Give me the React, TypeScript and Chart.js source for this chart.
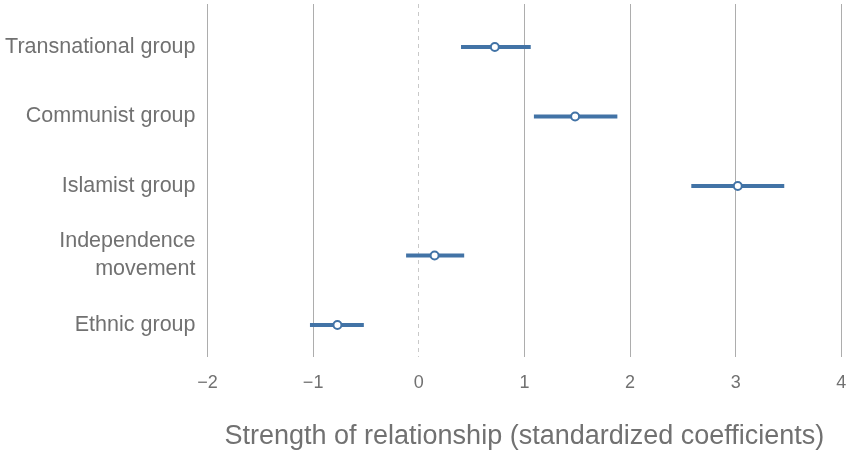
import React, { useEffect, useRef } from "react";
import { Chart, registerables } from "chart.js";

Chart.register(...registerables);

// Predictor categories, top to bottom
const categories: (string | string[])[] = [
  "Transnational group",
  "Communist group",
  "Islamist group",
  ["Independence", "movement"],
  "Ethnic group",
];

// Standardized coefficient estimates and their interval bounds
const estimates = [0.72, 1.48, 3.02, 0.15, -0.77];
const lowerBounds = [0.4, 1.09, 2.58, -0.12, -1.03];
const upperBounds = [1.06, 1.88, 3.46, 0.43, -0.52];

const xTicks = [-2, -1, 0, 1, 2, 3, 4];
const axisTitle = "Strength of relationship (standardized coefficients)";

const BLUE = "#4273a6";
const TEXT = "#717171";
const FONT = "'Liberation Sans', Arial, Helvetica, sans-serif";

// Drop the label overhang padding Chart.js reserves around each axis
const clearPadding = (scale: any) => {
  scale.paddingTop = 0;
  scale.paddingBottom = 0;
  scale.paddingLeft = 0;
  scale.paddingRight = 0;
};

export default function App() {
  const canvasRef = useRef<HTMLCanvasElement | null>(null);

  useEffect(() => {
    if (!canvasRef.current) return;

    // One horizontal segment per category for the interval
    const intervalSets = categories.map((_, i) => ({
      type: "line" as const,
      data: [
        { x: lowerBounds[i], y: i },
        { x: upperBounds[i], y: i },
      ],
      borderColor: BLUE,
      borderWidth: 4,
      borderCapStyle: "butt" as const,
      pointRadius: 0,
      showLine: true,
      order: 2,
    }));

    const chart = new Chart(canvasRef.current, {
      type: "scatter",
      data: {
        datasets: [
          ...intervalSets,
          {
            type: "scatter" as const,
            data: estimates.map((v, i) => ({ x: v, y: i })),
            backgroundColor: "#ffffff",
            borderColor: BLUE,
            borderWidth: 2,
            pointRadius: 4,
            order: 1,
          },
        ],
      },
      options: {
        animation: false,
        responsive: false,
        maintainAspectRatio: false,
        layout: {
          autoPadding: false,
          padding: { top: 4, right: 10.7, left: 0, bottom: 0 },
        },
        plugins: {
          legend: { display: false },
          tooltip: { enabled: false },
        },
        scales: {
          x: {
            type: "linear",
            min: xTicks[0],
            max: xTicks[xTicks.length - 1],
            afterBuildTicks: (scale: any) => {
              scale.ticks = xTicks.map((v) => ({ value: v }));
            },
            afterFit: (scale: any) => {
              scale.height = 93;
              clearPadding(scale);
            },
            grid: {
              drawTicks: false,
              lineWidth: 1,
              color: (ctx: any) =>
                ctx.tick && ctx.tick.value === 0 ? "#c9c9c9" : "#adadad",
            },
            border: {
              display: false,
              dash: (ctx: any) =>
                ctx.tick && ctx.tick.value === 0 ? [4, 4] : [],
            },
            ticks: {
              padding: 15,
              color: TEXT,
              font: { family: FONT, size: 18 },
              callback: (v: any) =>
                Number(v) < 0 ? "\u2212" + Math.abs(Number(v)) : String(v),
            },
            title: {
              display: true,
              text: axisTitle,
              color: TEXT,
              font: { family: FONT, size: 27 },
              padding: { top: 0, bottom: -3 },
            },
          },
          y: {
            type: "linear",
            reverse: true,
            min: -0.62,
            max: 4.46,
            afterBuildTicks: (scale: any) => {
              scale.ticks = categories.map((_, i) => ({ value: i }));
            },
            afterFit: (scale: any) => {
              scale.width = 207.5;
              clearPadding(scale);
            },
            grid: { display: false, drawTicks: false },
            border: { display: false },
            ticks: {
              padding: 12,
              color: TEXT,
              font: { family: FONT, size: 21.5, lineHeight: 1.3 },
              callback: (v: any) => categories[Number(v)] ?? "",
            },
          },
        },
      },
    } as any);

    return () => chart.destroy();
  }, []);

  return (
    <div style={{ position: "absolute", left: 0, top: 0, width: 852, height: 450 }}>
      <canvas ref={canvasRef} width={852} height={450} style={{ width: 852, height: 450 }} />
    </div>
  );
}
